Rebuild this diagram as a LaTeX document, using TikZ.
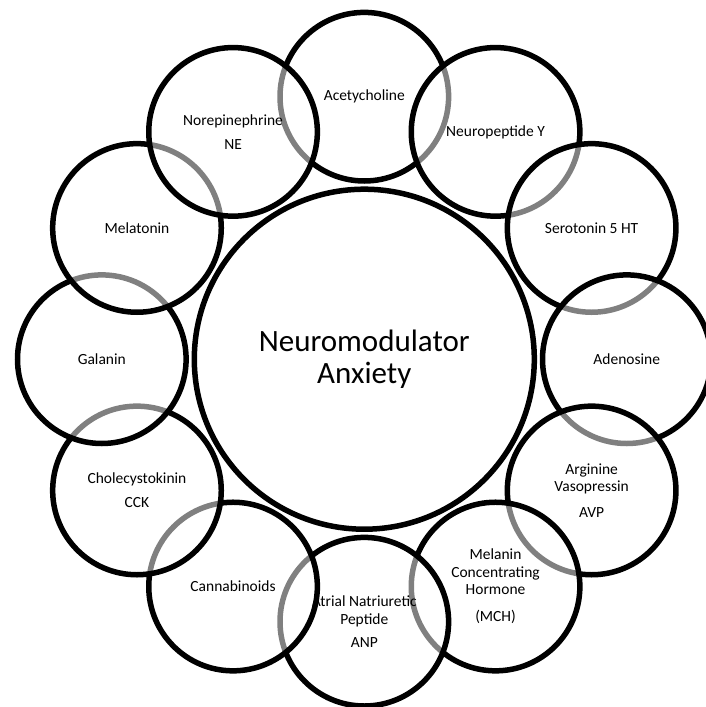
\documentclass[tikz,border=0pt]{standalone}
\usepackage{fontspec}
\setmainfont{Carlito}
\begin{document}
\begin{tikzpicture}[x=1pt,y=-1pt,
  ring/.style={circle, draw=black, line width=5.5pt, fill=white, fill opacity=0.5,
    draw opacity=1, text opacity=1, minimum size=168.6pt, inner sep=0pt,
    align=center, font=\fontsize{15.5}{17.3}\selectfont},
  hub/.style={circle, draw=black, line width=5.5pt, fill=white, minimum size=340pt,
    inner sep=0pt, align=center, font=\fontsize{31}{32.5}\selectfont}]
\useasboundingbox (0,0) rectangle (706,707);
\fill[white] (0,0) rectangle (706,707);
\node[hub] (hub) at (364.3,359.2) {Neuromodulator\\Anxiety};
\node[ring] (ach)  at (364.3,96.7)    {Acetycholine};
\node[ring] (npy)  at (495.55,131.87) {Neuropeptide Y};
\node[ring] (sero) at (591.63,227.95) {Serotonin 5 HT};
\node[ring] (aden) at (626.8,359.2)   {Adenosine};
\node[ring] (avp)  at (591.63,490.45) {Arginine\\Vasopressin\\[8pt]AVP};
\node[ring] (mch)  at (495.55,586.53) {Melanin\\Concentrating\\Hormone\\[10pt](MCH)};
\node[ring] (anp)  at (364.3,621.7)   {Atrial Natriuretic\\Peptide\\[6pt]ANP};
\node[ring] (cann) at (233.05,586.53) {Cannabinoids};
\node[ring] (cck)  at (136.97,490.45) {Cholecystokinin\\[7pt]CCK};
\node[ring] (gal)  at (101.8,359.2)   {Galanin};
\node[ring] (mel)  at (136.97,227.95) {Melatonin};
\node[ring] (ne)   at (233.05,131.87) {Norepinephrine\\[7pt]NE};
\end{tikzpicture}
\end{document}
